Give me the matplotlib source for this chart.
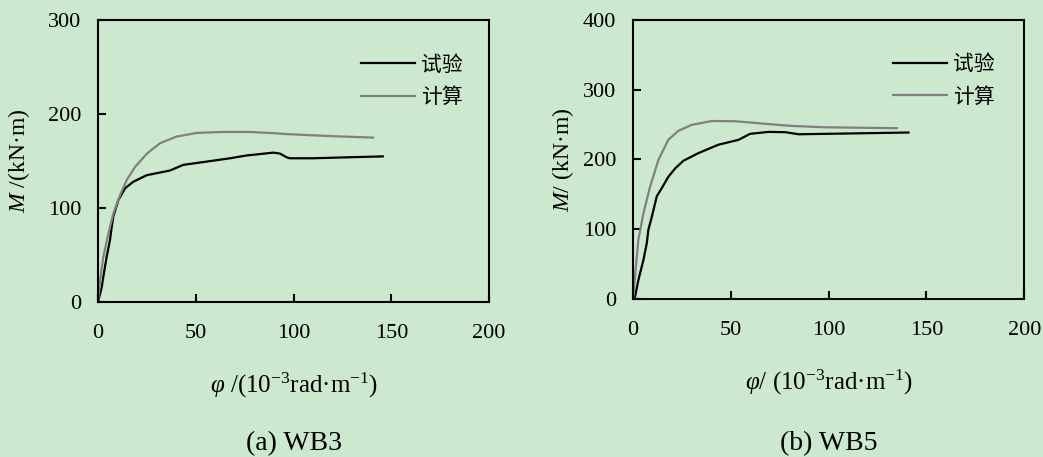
import matplotlib
matplotlib.use("Agg")
import matplotlib.pyplot as plt

# 弯矩-曲率曲线 (试验 / 计算)
wb3_test_phi = [0, 1.9, 2.7, 4.4, 6.1, 7.0, 7.8, 10.4, 13.8, 18, 24.9, 36.8, 43.6, 53.9,
                67.5, 76, 89.7, 93, 96.5, 98, 110, 127, 145.6]
wb3_test_m = [0, 16, 27, 48, 66, 80, 91, 108.5, 121, 128, 135, 140, 146, 149,
              153, 156, 159, 158, 154, 153, 153, 154, 155]
wb3_calc_phi = [0, 1, 2.7, 5.3, 7.8, 11.3, 14.7, 19, 25, 31.7, 40, 50.5, 64, 77.7,
                91.4, 96.5, 118.7, 140.7]
wb3_calc_m = [0, 23, 48, 73, 94, 114, 130, 144, 158, 169, 176, 180, 181, 181,
              179.5, 178.7, 176.6, 175]

wb5_test_phi = [0, 1, 2.7, 5.3, 7.0, 7.8, 9.6, 12.1, 14.7, 18, 21.5, 25.7, 33.4, 43.6,
                53.9, 59.8, 69.2, 77.7, 84.6, 98.2, 140.8]
wb5_test_m = [0, 3, 27, 56, 80, 99, 118, 147, 159, 175, 187, 198, 209, 221,
              228, 236.6, 239.4, 239, 236, 236.6, 238.5]
wb5_calc_phi = [0, 1.4, 2.7, 5.3, 8.7, 12.9, 18, 23.2, 30, 40.3, 52.2, 67.5, 81, 98.2, 134.9]
wb5_calc_m = [0, 46, 85, 123, 161, 199, 228, 241, 249.5, 255, 254.7, 251, 248, 246, 244.7]

panels = [
    ("(a) WB3", wb3_test_phi, wb3_test_m, wb3_calc_phi, wb3_calc_m, 300,
     [0, 100, 200, 300], r"$\varphi$ /(10$^{-3}$rad·m$^{-1}$)", r"$M$ /(kN·m)"),
    ("(b) WB5", wb5_test_phi, wb5_test_m, wb5_calc_phi, wb5_calc_m, 400,
     [0, 100, 200, 300, 400], r"$\varphi$/ (10$^{-3}$rad·m$^{-1}$)", r"$M$/ (kN·m)"),
]
x_ticks = [0, 50, 100, 150, 200]

BG = "#cce8cf"
SERIF = "Liberation Serif"
CJK = "Noto Sans CJK SC"

plt.rcParams.update({
    "font.family": [SERIF, CJK],
    "mathtext.fontset": "custom",
    "mathtext.rm": SERIF,
    "mathtext.it": SERIF + ":italic",
    "figure.facecolor": BG,
    "axes.facecolor": BG,
})

fig = plt.figure(figsize=(10.43, 4.57), dpi=100)
rects = [(0.094, 0.339, 0.375, 0.617), (0.607, 0.346, 0.375, 0.6105)]
ylabel_x = [0.018, 0.540]
legend_anchor = [(0.645, 0.785), (0.637, 0.783)]

for i, (title, tx, ty, cx, cy, ymax, yticks, xlabel, ylabel) in enumerate(panels):
    ax = fig.add_axes(rects[i])
    ax.plot(tx, ty, color="black", lw=1.6, label="试验")
    ax.plot(cx, cy, color="#808080", lw=1.6, label="计算")
    ax.set_xlim(0, 200)
    ax.set_ylim(0, ymax)
    ax.set_xticks(x_ticks)
    ax.set_yticks(yticks)
    for s in ax.spines.values():
        s.set_linewidth(1.5)
    ax.tick_params(direction="in", length=5.5, width=1.5, labelsize=16,
                   top=False, right=False)
    ax.tick_params(axis="x", pad=16)
    ax.tick_params(axis="y", pad=12)
    ax.set_xlabel(xlabel, fontsize=18, labelpad=20)
    ax.legend(loc="center left", bbox_to_anchor=legend_anchor[i], frameon=False,
              borderpad=0, prop={"family": CJK, "size": 15}, handlelength=2.6,
              handletextpad=0.3, labelspacing=0.5)
    fig.text(ylabel_x[i], rects[i][1] + rects[i][3] / 2, ylabel,
             rotation=90, ha="center", va="center", fontsize=17)
    fig.text(rects[i][0] + rects[i][2] / 2, 0.03, title, ha="center",
             va="center", fontsize=20)

fig.savefig("out.png", dpi=100, facecolor=BG)
